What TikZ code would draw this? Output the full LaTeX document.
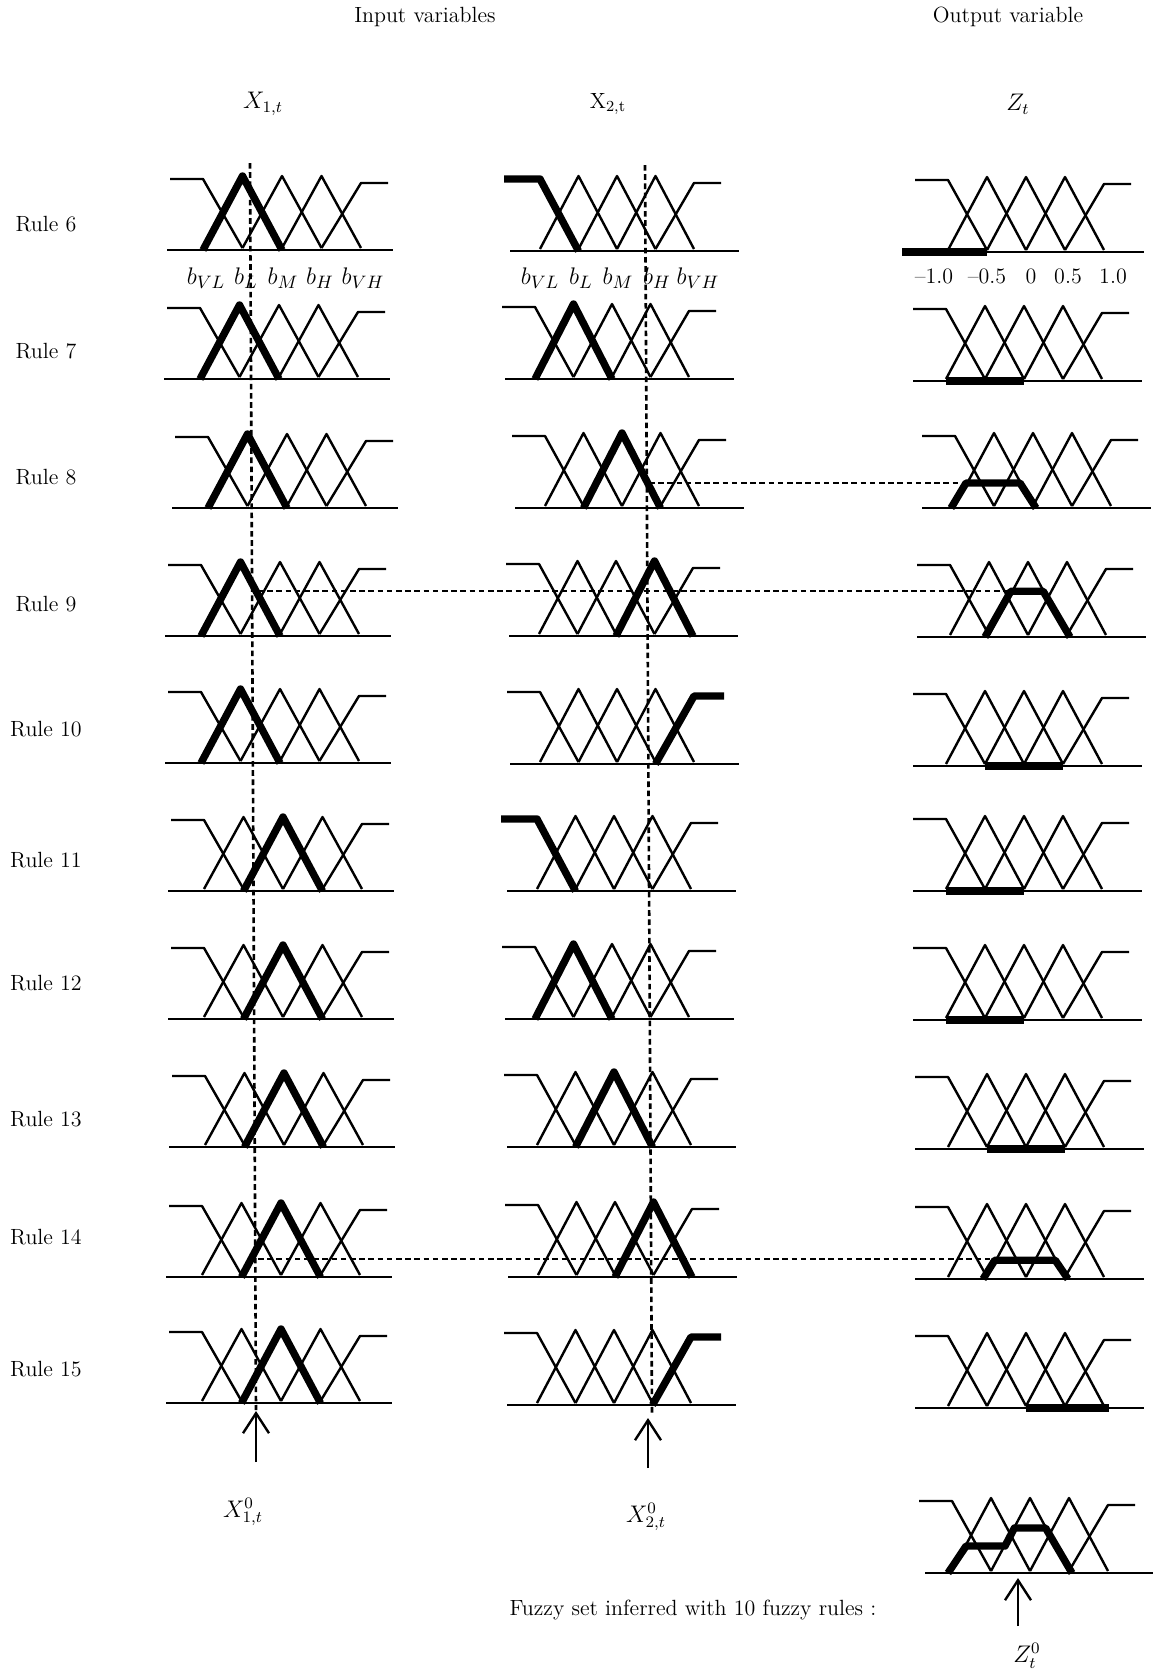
\documentclass[tikz,border=0pt]{standalone}
\usepackage{fontspec}
\usetikzlibrary{arrows.meta}
\tikzset{
  mf/.style={line width=1.2pt, line join=round},
  mfthick/.style={line width=3.7pt, line join=round, line cap=butt},
  baseln/.style={line width=1.3pt},
  dashln/.style={line width=1.3pt, dash pattern=on 2.8pt off 1.8pt},
  lbl/.style={font=\fontsize{11}{13}\selectfont, inner sep=0pt},
  mlbl/.style={font=\fontsize{11.5}{13}\selectfont, inner sep=0pt},
  blbl/.style={font=\fontsize{13}{15}\selectfont, inner sep=0pt},
  nlbl/.style={font=\fontsize{11}{13}\selectfont, inner sep=0pt},
  uparrow/.style={line width=1.2pt, -{Straight Barb[length=10pt,width=13pt,line width=1.2pt]}},
}
% panel: #1 c0, #2 baseline y, #3 left ext, #4 right ext, #5 extra code (local coords)
\newcommand\mfp[5]{%
  \begin{scope}[shift={(#1,#2)}]
    \draw[baseln] (-#3,0) -- ({4*\mfs+#4},0);
    \draw[mf] (-33,{3-\mfh}) -- (0,{3-\mfh}) -- (\mfs,-2);
    \draw[mf] (0,-2) -- (\mfs,-\mfh) -- ({2*\mfs},-2);
    \draw[mf] (\mfs,-2) -- ({2*\mfs},-\mfh) -- ({3*\mfs},-2);
    \draw[mf] ({2*\mfs},-2) -- ({3*\mfs},-\mfh) -- ({4*\mfs},-2);
    \draw[mf] ({3*\mfs},-2) -- ({4*\mfs},{7-\mfh}) -- ({4*\mfs+27},{7-\mfh});
    #5
  \end{scope}}
\newcommand\tVL{\draw[mfthick] (-36,{3-\mfh}) -- (0,{3-\mfh}) -- (\mfs,0);}
\newcommand\tL{\draw[mfthick] (0,0) -- (\mfs,-\mfh) -- ({2*\mfs},0);}
\newcommand\tM{\draw[mfthick] (\mfs,0) -- ({2*\mfs},-\mfh) -- ({3*\mfs},0);}
\newcommand\tH{\draw[mfthick] ({2*\mfs},0) -- ({3*\mfs},-\mfh) -- ({4*\mfs},0);}
\newcommand\tVH{\draw[mfthick] ({3*\mfs},0) -- ({4*\mfs},{7-\mfh}) -- ({4*\mfs+30},{7-\mfh});}
\newcommand\tB[2]{\draw[mfthick] (#1,0) -- (#2,0);}
% trapezoid: #1 start index, #2 fraction, #3 name of top-left corner
\newcommand\tTrap[3]{\draw[mfthick] ({#1*\mfs-4},0) -- ({(#1+#2)*\mfs-2},{-#2*\mfh}) coordinate (#3)
   -- ({(#1+2-#2)*\mfs},{-#2*\mfh}) -- ({(#1+2)*\mfs+3},0);}
\begin{document}
\begin{tikzpicture}[x=0.5pt,y=-0.5pt]
\useasboundingbox (0,0) rectangle (1157,1672);
\fill[white] (0,0) rectangle (1157,1672);

% headings
\node[lbl] (tin) at (425,17) {Input variables};
\node[lbl] (tout) at (1008,17) {Output variable};
\node[mlbl] (hx1) at (263,104) {$X_{1,t}$};
\node[lbl] (hx2) at (608,104) {X\textsubscript{2,t}};
\node[mlbl] (hz) at (1018,104) {$Z_t$};

% rule labels
\node[lbl] (r6) at (46,224) {Rule 6};
\node[lbl] (r7) at (46,351) {Rule 7};
\node[lbl] (r8) at (46,477) {Rule 8};
\node[lbl] (r9) at (46,604) {Rule 9};
\node[lbl] (r10) at (46,729) {Rule 10};
\node[lbl] (r11) at (46,860) {Rule 11};
\node[lbl] (r12) at (46,983) {Rule 12};
\node[lbl] (r13) at (46,1119) {Rule 13};
\node[lbl] (r14) at (46,1237) {Rule 14};
\node[lbl] (r15) at (46,1369) {Rule 15};

% ---------- X1 column ----------
\def\mfs{39.5}\def\mfh{74}
\mfp{203}{250}{36}{32}{\tL}
\mfp{200}{379}{36}{32}{\tL}
\mfp{208}{508}{36}{32}{\tL}
\mfp{201}{636}{36}{32}{\tL}
\mfp{201}{763}{36}{32}{\tL}
\mfp{204}{891}{36}{32}{\tM}
\mfp{204}{1019}{36}{32}{\tM}
\mfp{205}{1147}{36}{32}{\tM}
\mfp{202}{1277}{36}{32}{\tM}
\mfp{202}{1403}{36}{32}{\tM}

% ---------- X2 column ----------
\def\mfs{38.5}\def\mfh{75}
\mfp{540}{251}{30}{45}{\tVL}
\mfp{535}{379}{30}{45}{\tL}
\mfp{545}{508}{30}{45}{\tM}
\mfp{539}{636}{30}{45}{\tH}
\mfp{540}{764}{30}{45}{\tVH}
\mfp{537}{891}{30}{45}{\tVL}
\mfp{535}{1019}{30}{45}{\tL}
\mfp{537}{1147}{30}{45}{\tM}
\mfp{538}{1277}{30}{45}{\tH}
\mfp{537}{1405}{30}{45}{\tVH}

% ---------- Z column ----------
\def\mfs{39}\def\mfh{75}
\mfp{948}{252}{46}{40}{\tB{-46}{\mfs}}
\mfp{946}{381}{33}{40}{\tB{0}{2*\mfs}}
\mfp{955}{508}{33}{40}{\tTrap{0}{0.333}{z8}}
\mfp{950}{637}{33}{40}{\tTrap{1}{0.61}{z9}}
\mfp{946}{766}{33}{40}{\tB{\mfs}{3*\mfs}}
\mfp{946}{891}{33}{40}{\tB{0}{2*\mfs}}
\mfp{946}{1020}{33}{40}{\tB{0}{2*\mfs}}
\mfp{948}{1149}{33}{40}{\tB{\mfs}{3*\mfs}}
\mfp{948}{1279}{33}{40}{\tTrap{1}{0.25}{z14}}
\mfp{948}{1408}{33}{40}{\tB{2*\mfs}{4*\mfs+5}}
% aggregated output set
\mfp{952}{1573}{27}{45}{%
  \draw[mfthick] (-4,0) -- ({0.36*\mfs},{-0.36*\mfh}) -- ({1.36*\mfs},{-0.36*\mfh})
     -- ({1.6*\mfs},{-0.6*\mfh}) -- ({2.4*\mfs},{-0.6*\mfh}) -- ({3*\mfs+3},0);}

% term labels
\node[blbl] (b1vl) at (206,278) {$b_{VL}$};
\node[blbl] (b1l)  at (246,278) {$b_{L}$};
\node[blbl] (b1m)  at (283,278) {$b_{M}$};
\node[blbl] (b1h)  at (320,278) {$b_{H}$};
\node[blbl] (b1vh) at (363,278) {$b_{VH}$};
\node[blbl] (b2vl) at (540,278) {$b_{VL}$};
\node[blbl] (b2l)  at (581,278) {$b_{L}$};
\node[blbl] (b2m)  at (618,278) {$b_{M}$};
\node[blbl] (b2h)  at (657,278) {$b_{H}$};
\node[blbl] (b2vh) at (698,278) {$b_{VH}$};
\node[nlbl] (zm1) at (934,276) {–1.0};
\node[nlbl] (zm05) at (987,276) {–0.5};
\node[nlbl] (z0) at (1031,276) {0};
\node[nlbl] (z05) at (1068,276) {0.5};
\node[nlbl] (z1) at (1113,276) {1.0};

% vertical dashed lines
\coordinate (v1t) at (250,163); \coordinate (v1b) at (256,1410);
\coordinate (v2t) at (645,165); \coordinate (v2b) at (652,1413);
\draw[dashln] (v1t) -- (v1b);
\draw[dashln] (v2t) -- (v2b);

% horizontal dashed lines
\coordinate (h8) at (649,483);
\coordinate (h9) at (258,591);
\coordinate (h14) at (258,1259);
\draw[dashln] (h8) -- (h8 -| z8);
\draw[dashln] (h9) -- (h9 -| z9);
\draw[dashln] (h14) -- (h14 -| z14);

% arrows and input / output values
\coordinate (a1) at (256,1462); \coordinate (a1t) at (256,1411);
\coordinate (a2) at (648,1468); \coordinate (a2t) at (648,1418);
\coordinate (a3) at (1018,1626); \coordinate (a3t) at (1018,1578);
\draw[uparrow] (a1) -- (a1t);
\draw[uparrow] (a2) -- (a2t);
\draw[uparrow] (a3) -- (a3t);
\node[mlbl] (x10) at (243,1512) {$X^{0}_{1,t}$};
\node[mlbl] (x20) at (646,1517) {$X^{0}_{2,t}$};
\node[mlbl] (zt0) at (1027,1656) {$Z^{0}_{t}$};
\node[lbl] (fz) at (693,1610) {Fuzzy set inferred with 10 fuzzy rules :};
\end{tikzpicture}
\end{document}
